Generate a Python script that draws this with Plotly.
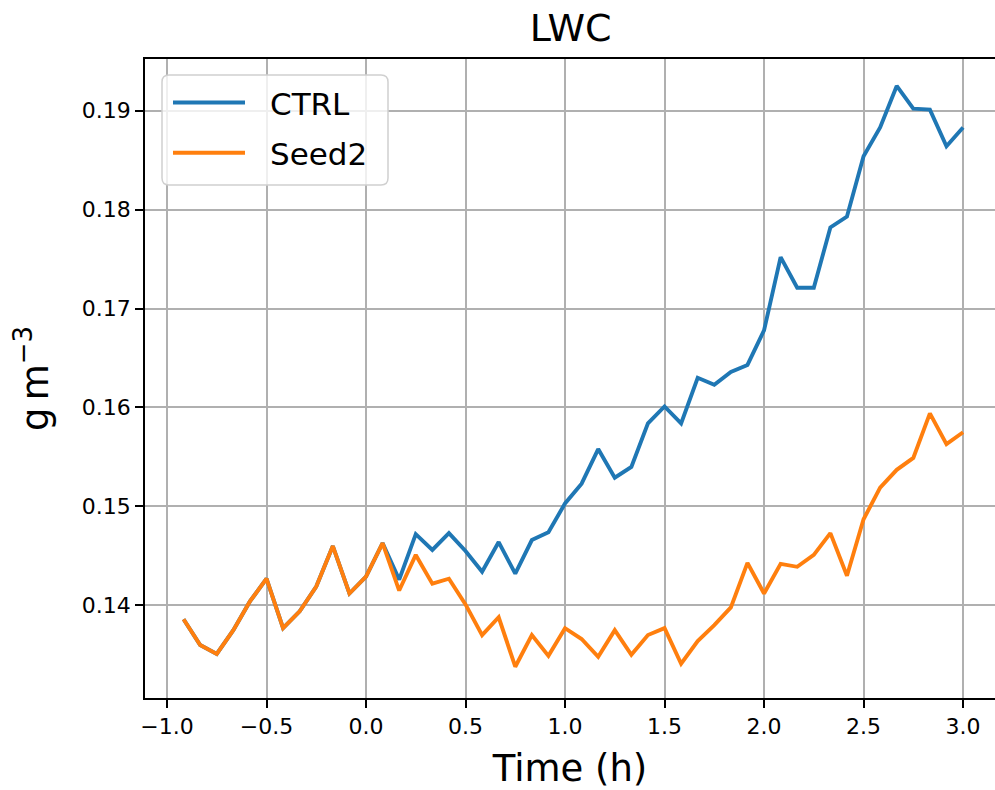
import plotly.graph_objects as go

# Time relative to seeding start, in minutes (5-minute output)
minutes = [-55, -50, -45, -40, -35, -30, -25, -20, -15, -10, -5, 0,
           5, 10, 15, 20, 25, 30, 35, 40, 45, 50, 55, 60,
           65, 70, 75, 80, 85, 90, 95, 100, 105, 110, 115, 120,
           125, 130, 135, 140, 145, 150, 155, 160, 165, 170, 175, 180]

# Liquid water content (g m^-3)
ctrl = [0.1386, 0.1360, 0.1351, 0.1375, 0.1404, 0.1427, 0.1377, 0.1394,
        0.1419, 0.1460, 0.1412, 0.1429, 0.1463, 0.1426, 0.1472, 0.1456,
        0.1473, 0.1455, 0.1434, 0.1464, 0.1432, 0.1466, 0.1474, 0.1503,
        0.1523, 0.1558, 0.1529, 0.1540, 0.1584, 0.1601, 0.1584, 0.1630,
        0.1623, 0.1636, 0.1643, 0.1678, 0.1752, 0.1721, 0.1721, 0.1782,
        0.1793, 0.1854, 0.1883, 0.1925, 0.1902, 0.1901, 0.1864, 0.1883]

seed2 = [0.1386, 0.1360, 0.1351, 0.1375, 0.1404, 0.1427, 0.1377, 0.1394,
         0.1419, 0.1460, 0.1412, 0.1429, 0.1463, 0.1415, 0.1451, 0.1422,
         0.1427, 0.1401, 0.1370, 0.1388, 0.1338, 0.1370, 0.1349, 0.1377,
         0.1366, 0.1348, 0.1375, 0.1350, 0.1370, 0.1377, 0.1341, 0.1364,
         0.1380, 0.1398, 0.1443, 0.1412, 0.1442, 0.1439, 0.1451, 0.1473,
         0.1430, 0.1487, 0.1519, 0.1537, 0.1549, 0.1594, 0.1563, 0.1575]

series_names = ["CTRL", "Seed2"]
series_colors = ["#1f77b4", "#ff7f0e"]

hours = [m / 60 for m in minutes]

FONT = "DejaVu Sans"
W, H = 995, 790
ML, MR, MT, MB = 145, 0, 59, 92
PW, PH = W - ML - MR, H - MT - MB
LINE_W = 3.9


def px(x):
    """Pixel column -> paper x."""
    return (x - ML) / PW


def py(y):
    """Pixel row -> paper y."""
    return (H - MB - y) / PH


fig = go.Figure()
for name, vals, col in zip(series_names, [ctrl, seed2], series_colors):
    fig.add_trace(go.Scatter(x=hours, y=vals, mode="lines", name=name,
                             showlegend=False,
                             line=dict(color=col, width=LINE_W)))

axis_common = dict(
    showline=True, linecolor="black", linewidth=1.75,
    showgrid=True, gridcolor="#b0b0b0", gridwidth=1.75,
    zeroline=False,
    ticks="outside", ticklen=8, tickwidth=1.75, tickcolor="black",
    tickfont=dict(family=FONT, size=22, color="black"),
)

# Legend frame (rounded box, upper left of the axes)
x0, x1, y0, y1, r = 162, 388, 75, 185, 7
box = (f"M{px(x0 + r)},{py(y0)} L{px(x1 - r)},{py(y0)} "
       f"Q{px(x1)},{py(y0)} {px(x1)},{py(y0 + r)} "
       f"L{px(x1)},{py(y1 - r)} Q{px(x1)},{py(y1)} {px(x1 - r)},{py(y1)} "
       f"L{px(x0 + r)},{py(y1)} Q{px(x0)},{py(y1)} {px(x0)},{py(y1 - r)} "
       f"L{px(x0)},{py(y0 + r)} Q{px(x0)},{py(y0)} {px(x0 + r)},{py(y0)} Z")
shapes = [dict(type="path", xref="paper", yref="paper", path=box,
               fillcolor="rgba(255,255,255,0.8)",
               line=dict(color="#d0d0d0", width=1.5), layer="above")]
annotations = []
for k, (name, col) in enumerate(zip(series_names, series_colors)):
    yrow = 102.5 + 50.3 * k
    shapes.append(dict(type="line", xref="paper", yref="paper",
                       x0=px(173), x1=px(245), y0=py(yrow), y1=py(yrow),
                       line=dict(color=col, width=LINE_W), layer="above"))
    annotations.append(dict(text=name, xref="paper", yref="paper",
                            x=px(268), y=py(yrow + 1), xanchor="left",
                            yanchor="middle", showarrow=False,
                            font=dict(family=FONT, size=31, color="black")))

fig.update_layout(
    width=W, height=H,
    margin=dict(l=ML, r=MR, t=MT, b=MB),
    paper_bgcolor="white", plot_bgcolor="white",
    font=dict(family=FONT, color="black"),
    title=dict(text="LWC", x=0.5735, xanchor="center",
               yref="container", y=1 - 28 / 790, yanchor="middle",
               font=dict(family=FONT, size=38, color="black")),
    xaxis=dict(axis_common, range=[-1.1105, 3.1605], dtick=0.5, tick0=0,
               tickformat=".1f", mirror=True,
               title=dict(text="Time (h)", standoff=17,
                          font=dict(family=FONT, size=37, color="black"))),
    yaxis=dict(axis_common, range=[0.13064, 0.19522], dtick=0.01, tick0=0,
               tickformat=".2f",
               title=dict(text="g\u2009m<sup>−3</sup>", standoff=22,
                          font=dict(family=FONT, size=37, color="black"))),
    shapes=shapes,
    annotations=annotations,
    showlegend=False,
)

fig.write_html("out.html")
